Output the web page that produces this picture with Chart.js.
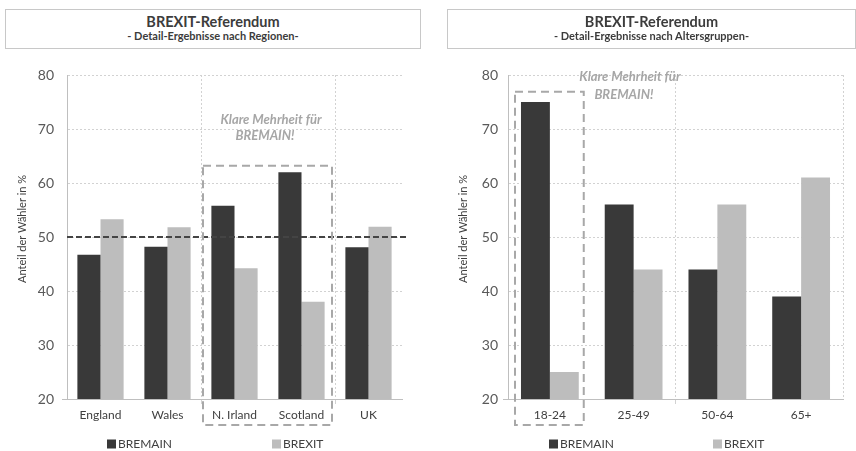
<!DOCTYPE html>
<html>
<head>
<meta charset="utf-8">
<script src="https://cdn.jsdelivr.net/npm/chart.js@4/dist/chart.umd.min.js"></script>
<style>
  html, body { margin: 0; padding: 0; background: #fff; }
  #page { position: relative; width: 856px; height: 451px; overflow: hidden; font-family: Lato, "Open Sans", sans-serif; }
  .panel { position: absolute; top: 0; width: 428px; height: 451px; }
  .head { position: absolute; top: 9px; height: 40px; box-sizing: border-box; border: 1px solid #c8c8c8; color: #3c3c3c; text-align: center; background: #fff; }
  .head .t1 { position: absolute; left: 0; right: 0; top: 3px; height: 18px; line-height: 18px; font-size: 14.5px; font-weight: bold; }
  .head .t2 { position: absolute; left: 0; right: 0; top: 19px; height: 14px; line-height: 14px; font-size: 11px; font-weight: bold; }
</style>
</head>
<body>
<div id="page">
  <div class="panel" style="left:0"><canvas id="cRegions" width="428" height="451"></canvas></div>
  <div class="panel" style="left:428px"><canvas id="cAges" width="428" height="451"></canvas></div>
  <div class="head" style="left:5px;width:416px">
    <div class="t1">BREXIT-Referendum</div>
    <div class="t2">- Detail-Ergebnisse nach Regionen-</div>
  </div>
  <div class="head" style="left:447px;width:409px">
    <div class="t1">BREXIT-Referendum</div>
    <div class="t2">- Detail-Ergebnisse nach Altersgruppen-</div>
  </div>
</div>
<script>
// Results of the EU referendum, share of voters in %
const regions = ['England', 'Wales', 'N. Irland', 'Scotland', 'UK'];
const regionRemain = [46.7, 48.2, 55.8, 62.0, 48.1];
const regionLeave = [53.3, 51.8, 44.2, 38.0, 51.9];

const ageGroups = ['18-24', '25-49', '50-64', '65+'];
const ageRemain = [75, 56, 44, 39];
const ageLeave = [25, 44, 56, 61];

const seriesNames = ['BREMAIN', 'BREXIT'];
const yTicks = [20, 30, 40, 50, 60, 70, 80];
const axisTitle = 'Anteil der Wähler in %';
const noteLines = ['Klare Mehrheit für', 'BREMAIN!'];
const majorityLine = 50;

const FONT = 'Lato, "Open Sans", sans-serif';
const DARK = '#393939';
const LIGHT = '#bdbdbd';
const GRID = '#d2d2d2';
const AXIS = '#bfbfbf';
const NONE = 'rgba(0,0,0,0)';

// Threshold line, highlight frame, note, axis title and the spread-out legend
const decorPlugin = {
  id: 'decor',
  afterDatasetsDraw(chart, args, o) {
    const { ctx, chartArea } = chart;
    const x = chart.scales.x, y = chart.scales.y;
    const step = x.getPixelForValue(1) - x.getPixelForValue(0);
    ctx.save();
    if (o.threshold != null) {
      const py = y.getPixelForValue(o.threshold);
      ctx.strokeStyle = '#444';
      ctx.lineWidth = 2;
      ctx.setLineDash([6, 3]);
      ctx.beginPath();
      ctx.moveTo(chartArea.left, py);
      ctx.lineTo(chartArea.right + 4, py);
      ctx.stroke();
    }
    if (o.box) {
      const b = o.box;
      const l = x.getPixelForValue(b.from) - step / 2 + b.padL;
      const r = x.getPixelForValue(b.to) + step / 2 - b.padR;
      const t = y.getPixelForValue(b.top);
      const btm = chartArea.bottom + b.below;
      ctx.strokeStyle = '#a8a8a8';
      ctx.lineWidth = 2;
      ctx.setLineDash([8, 5]);
      ctx.strokeRect(l, t, r - l, btm - t);
    }
    if (o.note) {
      const n = o.note;
      const cx = x.getPixelForValue(0) + n.x * step;
      ctx.setLineDash([]);
      ctx.fillStyle = '#a6a6a6';
      ctx.font = 'italic bold 13px ' + FONT;
      ctx.textAlign = 'center';
      ctx.textBaseline = 'middle';
      ctx.fillText(noteLines[0], cx + 3, y.getPixelForValue(n.y1));
      ctx.fillText(noteLines[1], cx - 3, y.getPixelForValue(n.y2));
    }
    ctx.restore();
  },
  afterDraw(chart, args, o) {
    const { ctx, chartArea } = chart;
    ctx.save();
    // rotated axis title
    ctx.save();
    ctx.translate(o.titleX, chartArea.top + (chartArea.bottom - chartArea.top) * 0.475);
    ctx.rotate(-Math.PI / 2);
    ctx.font = '11px ' + FONT;
    ctx.fillStyle = '#404040';
    ctx.textAlign = 'center';
    ctx.textBaseline = 'middle';
    ctx.fillText(axisTitle, 0, 0);
    ctx.restore();
    // legend
    ctx.font = '12px ' + FONT;
    ctx.textBaseline = 'middle';
    ctx.textAlign = 'left';
    chart.data.datasets.forEach((ds, i) => {
      const lx = chartArea.left + o.legendOffsets[i];
      const ly = o.legendY;
      ctx.fillStyle = ds.backgroundColor;
      ctx.fillRect(lx, ly - 4.5, 9, 9);
      ctx.fillStyle = '#404040';
      ctx.fillText(ds.label, lx + 11, ly);
    });
    ctx.restore();
  }
};

function buildChart(id, labels, remain, leave, cfg) {
  return new Chart(document.getElementById(id), {
    type: 'bar',
    data: {
      labels: labels,
      datasets: [
        { label: seriesNames[0], data: remain, backgroundColor: DARK, borderWidth: 0 },
        { label: seriesNames[1], data: leave, backgroundColor: LIGHT, borderWidth: 0 }
      ]
    },
    options: {
      responsive: false,
      animation: false,
      events: [],
      categoryPercentage: 0.69,
      barPercentage: 1.0,
      layout: { padding: { top: 75, right: cfg.padRight, bottom: 0, left: 0 } },
      plugins: {
        legend: { display: false },
        tooltip: { enabled: false },
        decor: cfg.decor
      },
      scales: {
        x: {
          offset: true,
          afterFit(s) { s.height = 52; },
          grid: {
            offset: true,
            lineWidth: 1,
            color: c => c.type === 'tick' ? ((c.index > 0 && c.index % 2 === 0) ? GRID : NONE) : (cfg.edgeLine ? GRID : NONE),
            tickColor: c => c.type === 'tick' ? ((c.index > 0 && c.index % 2 === 0) ? GRID : NONE) : NONE,
            drawTicks: true,
            tickLength: 5
          },
          border: { display: true, color: AXIS, width: 1, dash: [2, 2] },
          ticks: { color: '#404040', font: { family: FONT, size: 12 }, padding: 4, maxRotation: 0 }
        },
        y: {
          min: 20,
          max: 80,
          afterFit(s) { s.width = cfg.yWidth; },
          afterBuildTicks(s) { s.ticks = yTicks.map(v => ({ value: v })); },
          grid: {
            color: c => c.index === 0 ? NONE : GRID,
            tickColor: c => c.index === 0 ? AXIS : NONE,
            drawTicks: true,
            tickLength: 5
          },
          border: { display: true, color: AXIS, width: 1, dash: [2, 2] },
          ticks: { color: '#595959', font: { family: FONT, size: 14 }, padding: cfg.yPad }
        }
      }
    },
    plugins: [decorPlugin]
  });
}

buildChart('cRegions', regions, regionRemain, regionLeave, {
  padRight: 26, yWidth: 67, yPad: 8, edgeLine: false,
  decor: {
    threshold: majorityLine,
    box: { from: 2, to: 3, top: 63.2, padL: 2, padR: 3, below: 26 },
    note: { x: 2.5, y1: 71.7, y2: 68.7 },
    titleX: 22,
    legendOffsets: [40, 205], legendY: 444
  }
});

buildChart('cAges', ageGroups, ageRemain, ageLeave, {
  padRight: 13, yWidth: 80, yPad: 5, edgeLine: true,
  decor: {
    threshold: null,
    box: { from: 0, to: 0, top: 76.9, padL: 7, padR: 8, below: 26 },
    note: { x: 0.92, y1: 79.6, y2: 76.4 },
    titleX: 35,
    legendOffsets: [41, 205], legendY: 444
  }
});
</script>
</body>
</html>
